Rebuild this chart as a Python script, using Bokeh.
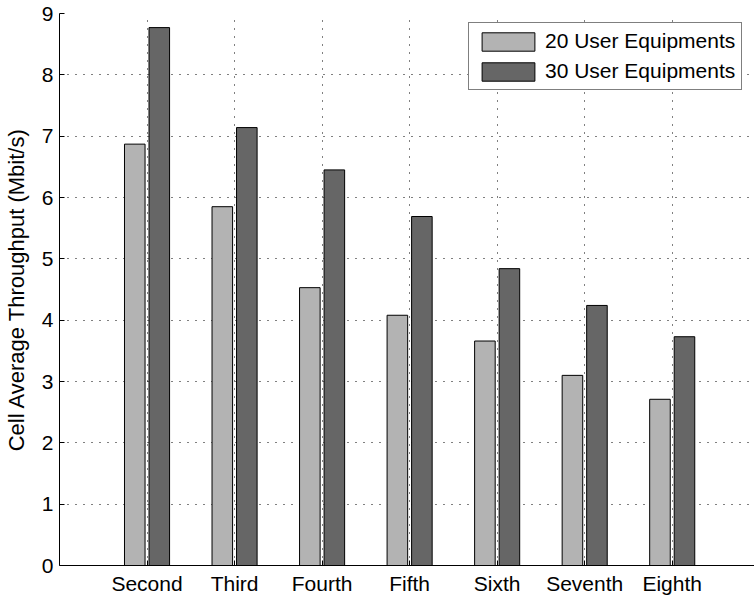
from bokeh.plotting import figure
from bokeh.models import ColumnDataSource, Range1d, FixedTicker, Legend, LegendItem
from bokeh.transform import dodge
from bokeh.embed import file_html
from bokeh.resources import INLINE

# Cell average throughput per neighbour tier, for two UE loads
tiers = ["Second", "Third", "Fourth", "Fifth", "Sixth", "Seventh", "Eighth"]
ue20 = [6.87, 5.85, 4.53, 4.08, 3.66, 3.10, 2.71]
ue30 = [8.77, 7.14, 6.45, 5.69, 4.84, 4.24, 3.73]
y_ticks = [0, 1, 2, 3, 4, 5, 6, 7, 8, 9]

pos = list(range(1, len(tiers) + 1))
src = ColumnDataSource(dict(x=pos, ue20=ue20, ue30=ue30))

FONT = "Liberation Sans"

p = figure(width=754, height=598, output_backend="svg", toolbar_location=None,
           x_range=Range1d(0, 7.94), y_range=Range1d(0, 9),
           min_border_left=57, min_border_right=0, min_border_top=13,
           min_border_bottom=33)
p.outline_line_color = None
p.background_fill_color = "white"
p.border_fill_color = "white"

bar_w = 0.235
r20 = p.vbar(x=dodge("x", -0.14), top="ue20", width=bar_w, source=src,
             fill_color="#b3b3b3", line_color="black", line_width=1)
r30 = p.vbar(x=dodge("x", 0.14), top="ue30", width=bar_w, source=src,
             fill_color="#666666", line_color="black", line_width=1)

# axes
p.xaxis.ticker = FixedTicker(ticks=pos)
p.xaxis.major_label_overrides = {i: t for i, t in zip(pos, tiers)}
p.yaxis.ticker = FixedTicker(ticks=y_ticks)
for ax in (p.xaxis[0], p.yaxis[0]):
    ax.major_tick_in = 5
    ax.major_tick_out = 0
    ax.minor_tick_line_color = None
    ax.axis_line_color = "black"
    ax.major_tick_line_color = "black"
    ax.major_label_text_font = FONT
    ax.major_label_text_font_size = "21px"
    ax.major_label_text_color = "black"
p.xaxis.major_label_standoff = 6
p.yaxis.major_label_standoff = 6
p.yaxis.axis_label = "Cell Average Throughput (Mbit/s)"
p.yaxis.axis_label_text_font = FONT
p.yaxis.axis_label_text_font_size = "22px"
p.yaxis.axis_label_text_font_style = "normal"
p.yaxis.axis_label_text_color = "black"
p.yaxis.axis_label_standoff = 10

# dotted grid
for g in (p.xgrid[0], p.ygrid[0]):
    g.grid_line_color = "black"
    g.grid_line_dash = "1 7"
    g.grid_line_width = 1
    g.grid_line_alpha = 1.0

legend = Legend(items=[LegendItem(label="20 User Equipments", renderers=[r20]),
                       LegendItem(label="30 User Equipments", renderers=[r30])],
                location=(409, 475))
legend.label_text_font = FONT
legend.label_text_font_size = "21px"
legend.label_text_color = "black"
legend.glyph_width = 66
legend.glyph_height = 23
legend.label_height = 23
legend.label_standoff = 4
legend.spacing = 6
legend.padding = 6
legend.margin = 0
legend.border_line_color = "black"
legend.border_line_width = 1
legend.background_fill_color = "white"
legend.background_fill_alpha = 1
p.add_layout(legend)

open("out.html", "w").write(file_html(p, INLINE))
